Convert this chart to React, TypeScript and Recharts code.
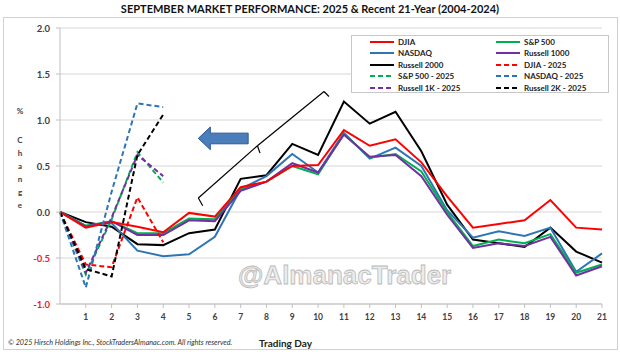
import { LineChart, Line, XAxis, YAxis, CartesianGrid, ReferenceLine, ReferenceArea } from 'recharts';

const FONT = 'Lato, "Liberation Sans", sans-serif';

const DAYS = [0, 1, 2, 3, 4, 5, 6, 7, 8, 9, 10, 11, 12, 13, 14, 15, 16, 17, 18, 19, 20, 21];
const X_TICKS = [1, 2, 3, 4, 5, 6, 7, 8, 9, 10, 11, 12, 13, 14, 15, 16, 17, 18, 19, 20, 21];
const Y_TICKS = [-1, -0.5, 0, 0.5, 1, 1.5, 2];

// 21-year averages (2004-2024)
const DJIA = [0, -0.17, -0.11, -0.16, -0.22, -0.01, -0.05, 0.27, 0.33, 0.5, 0.51, 0.89, 0.72, 0.79, 0.54, 0.17, -0.17, -0.13, -0.09, 0.13, -0.17, -0.19];
const SP500 = [0, -0.15, -0.1, -0.23, -0.23, -0.07, -0.08, 0.25, 0.33, 0.5, 0.41, 0.85, 0.59, 0.63, 0.44, 0.0, -0.37, -0.3, -0.34, -0.24, -0.66, -0.57];
const NASDAQ = [0, -0.15, -0.12, -0.42, -0.48, -0.46, -0.27, 0.25, 0.39, 0.63, 0.43, 0.86, 0.58, 0.7, 0.5, 0.02, -0.28, -0.21, -0.26, -0.17, -0.65, -0.45];
const R1000 = [0, -0.16, -0.1, -0.25, -0.25, -0.09, -0.1, 0.23, 0.33, 0.53, 0.43, 0.84, 0.6, 0.62, 0.39, -0.03, -0.39, -0.34, -0.37, -0.27, -0.69, -0.59];
const R2000 = [0, -0.11, -0.16, -0.35, -0.36, -0.23, -0.19, 0.36, 0.4, 0.74, 0.62, 1.2, 0.96, 1.09, 0.66, 0.08, -0.3, -0.34, -0.38, -0.17, -0.43, -0.55];

// September 2025 so far
const DJIA_2025 = [0, -0.57, -0.6, 0.16, -0.33];
const SP500_2025 = [0, -0.68, -0.08, 0.65, 0.32];
const NASDAQ_2025 = [0, -0.82, 0.22, 1.18, 1.14];
const R1K_2025 = [0, -0.66, -0.06, 0.62, 0.39];
const R2K_2025 = [0, -0.62, -0.7, 0.62, 1.06];

const SERIES = [
  { key: 'r2000', name: 'Russell 2000', color: '#000000', dashed: false },
  { key: 'nasdaq', name: 'NASDAQ', color: '#2e75b6', dashed: false },
  { key: 'sp500', name: 'S&P 500', color: '#00b050', dashed: false },
  { key: 'r1000', name: 'Russell 1000', color: '#7030a0', dashed: false },
  { key: 'djia', name: 'DJIA', color: '#ff0000', dashed: false },
  { key: 'djia25', name: 'DJIA - 2025', color: '#ff0000', dashed: true },
  { key: 'sp25', name: 'S&P 500 - 2025', color: '#00b050', dashed: true },
  { key: 'r1k25', name: 'Russell 1K - 2025', color: '#7030a0', dashed: true },
  { key: 'nasdaq25', name: 'NASDAQ - 2025', color: '#2e75b6', dashed: true },
  { key: 'r2k25', name: 'Russell 2K - 2025', color: '#000000', dashed: true },
];

const LEGEND_ORDER = ['djia', 'sp500', 'nasdaq', 'r1000', 'r2000', 'djia25', 'sp25', 'nasdaq25', 'r1k25', 'r2k25'];

const data = DAYS.map((day, i) => ({
  day,
  djia: DJIA[i],
  sp500: SP500[i],
  nasdaq: NASDAQ[i],
  r1000: R1000[i],
  r2000: R2000[i],
  djia25: DJIA_2025[i] ?? null,
  sp25: SP500_2025[i] ?? null,
  nasdaq25: NASDAQ_2025[i] ?? null,
  r1k25: R1K_2025[i] ?? null,
  r2k25: R2K_2025[i] ?? null,
}));

function YTick({ x, y, payload }: any) {
  const v = payload.value as number;
  return (
    <text x={x} y={y} dy={3.5} textAnchor="end" fontSize={9.5} fontWeight={700} fontFamily={FONT} fill={v < 0 ? '#e8202a' : '#404040'}>
      {v.toFixed(1)}
    </text>
  );
}

function XTick({ x, y, payload }: any) {
  return (
    <text x={x} y={y} dy={8} textAnchor="middle" fontSize={8.5} fontWeight={700} fontFamily={FONT} fill="#404040">
      {payload.value}
    </text>
  );
}

function BlockArrow(props: any) {
  const { x, y, width, height } = props;
  const head = 12;
  const shaftTop = y + height * 0.27;
  const shaftBot = y + height * 0.74;
  const d = `M${x},${y + height / 2} L${x + head},${y} L${x + head},${shaftTop} L${x + width},${shaftTop} L${x + width},${shaftBot} L${x + head},${shaftBot} L${x + head},${y + height} Z`;
  return <path d={d} fill="#4a7ebb" stroke="#2f5597" strokeWidth={1} />;
}

function LegendBox() {
  return (
    <div
      style={{
        position: 'absolute',
        left: 351,
        top: 35,
        width: 258,
        height: 58,
        background: '#fff',
        border: '1px solid #c8c8c8',
        display: 'grid',
        gridTemplateColumns: '126px 126px',
        gridAutoRows: '11.5px',
        boxSizing: 'border-box',
        fontFamily: FONT,
        fontSize: 8,
        fontWeight: 700,
        color: '#222',
      }}
    >
      {LEGEND_ORDER.map((k) => {
        const s = SERIES.find((e) => e.key === k)!;
        return (
          <div key={k} style={{ display: 'flex', alignItems: 'center', paddingLeft: 18 }}>
            <svg width={25} height={6} style={{ marginRight: 3 }}>
              <line x1={0} y1={3} x2={24} y2={3} stroke={s.color} strokeWidth={2} strokeDasharray={s.dashed ? '5 3' : undefined} />
            </svg>
            <span>{s.name}</span>
          </div>
        );
      })}
    </div>
  );
}

export default function App() {
  return (
    <div style={{ position: 'fixed', left: 0, top: 0, width: 620, height: 352, background: '#fff', overflow: 'hidden' }}>
      <div style={{ position: 'absolute', left: 3, top: 17, width: 613, height: 331, border: '1px solid #d0d0d0' }} />
      <div
        style={{
          position: 'absolute',
          left: 0,
          top: 2,
          width: 620,
          textAlign: 'center',
          fontFamily: FONT,
          fontSize: 11,
          fontWeight: 700,
          color: '#111',
        }}
      >
        SEPTEMBER MARKET PERFORMANCE: 2025 &amp; Recent 21-Year (2004-2024)
      </div>
      <div
        style={{
          position: 'absolute',
          left: 238,
          top: 260,
          fontFamily: '"Liberation Sans Narrow", "Liberation Sans", sans-serif',
          fontSize: 26,
          fontWeight: 700,
          color: '#ececec',
          WebkitTextStroke: '0.8px #b9b9b9',
        }}
      >
        @AlmanacTrader
      </div>
      <div
        style={{
          position: 'absolute',
          left: 14,
          top: 105,
          width: 12,
          textAlign: 'center',
          fontFamily: FONT,
          fontSize: 8,
          fontWeight: 700,
          color: '#404040',
          lineHeight: '13px',
        }}
      >
        <div style={{ marginBottom: 16 }}>%</div>
        {'Change'.split('').map((c, i) => (
          <div key={i}>{c}</div>
        ))}
      </div>
      <div style={{ position: 'absolute', left: 0, top: 0 }}>
        <LineChart width={620} height={352} data={data} margin={{ top: 28, right: 18, bottom: 0, left: 0 }}>
          <CartesianGrid vertical={false} stroke="#d6d6d6" />
          <XAxis
            dataKey="day"
            type="number"
            domain={[0, 21]}
            ticks={X_TICKS}
            interval={0}
            height={48}
            tick={<XTick />}
            tickSize={4}
            tickMargin={4}
            axisLine={{ stroke: '#bfbfbf' }}
            tickLine={{ stroke: '#bfbfbf' }}
          />
          <YAxis
            type="number"
            domain={[-1, 2]}
            ticks={Y_TICKS}
            interval={0}
            width={60}
            tick={<YTick />}
            tickSize={4}
            tickMargin={6}
            axisLine={{ stroke: '#bfbfbf' }}
            tickLine={{ stroke: '#bfbfbf' }}
          />
          <ReferenceArea x1={5.36} x2={7.29} y1={0.677} y2={0.924} ifOverflow="visible" shape={<BlockArrow />} />
          <ReferenceLine segment={[{ x: 5.53, y: 0.068 }, { x: 5.36, y: 0.152 }]} stroke="#000" strokeWidth={1.2} ifOverflow="visible" />
          <ReferenceLine segment={[{ x: 5.36, y: 0.152 }, { x: 7.65, y: 0.72 }]} stroke="#000" strokeWidth={1.2} ifOverflow="visible" />
          <ReferenceLine segment={[{ x: 7.65, y: 0.72 }, { x: 7.75, y: 0.64 }]} stroke="#000" strokeWidth={1.2} ifOverflow="visible" />
          <ReferenceLine segment={[{ x: 7.65, y: 0.72 }, { x: 10.23, y: 1.31 }]} stroke="#000" strokeWidth={1.2} ifOverflow="visible" />
          <ReferenceLine segment={[{ x: 10.23, y: 1.31 }, { x: 10.42, y: 1.255 }]} stroke="#000" strokeWidth={1.2} ifOverflow="visible" />
          {SERIES.map((s) => (
            <Line
              key={s.key}
              dataKey={s.key}
              name={s.name}
              type="linear"
              stroke={s.color}
              strokeWidth={2}
              strokeDasharray={s.dashed ? '5 3' : undefined}
              dot={false}
              activeDot={false}
              connectNulls={false}
              isAnimationActive={false}
            />
          ))}
        </LineChart>
      </div>
      <LegendBox />
      <div
        style={{
          position: 'absolute',
          left: 8,
          top: 338,
          fontFamily: FONT,
          fontSize: 7.2,
          fontStyle: 'italic',
          color: '#333',
        }}
      >
        © 2025 Hirsch Holdings Inc., StockTradersAlmanac.com. All rights reserved.
      </div>
      <div
        style={{
          position: 'absolute',
          left: 259,
          top: 337,
          fontFamily: FONT,
          fontSize: 10,
          fontWeight: 700,
          color: '#222',
        }}
      >
        Trading Day
      </div>
    </div>
  );
}
